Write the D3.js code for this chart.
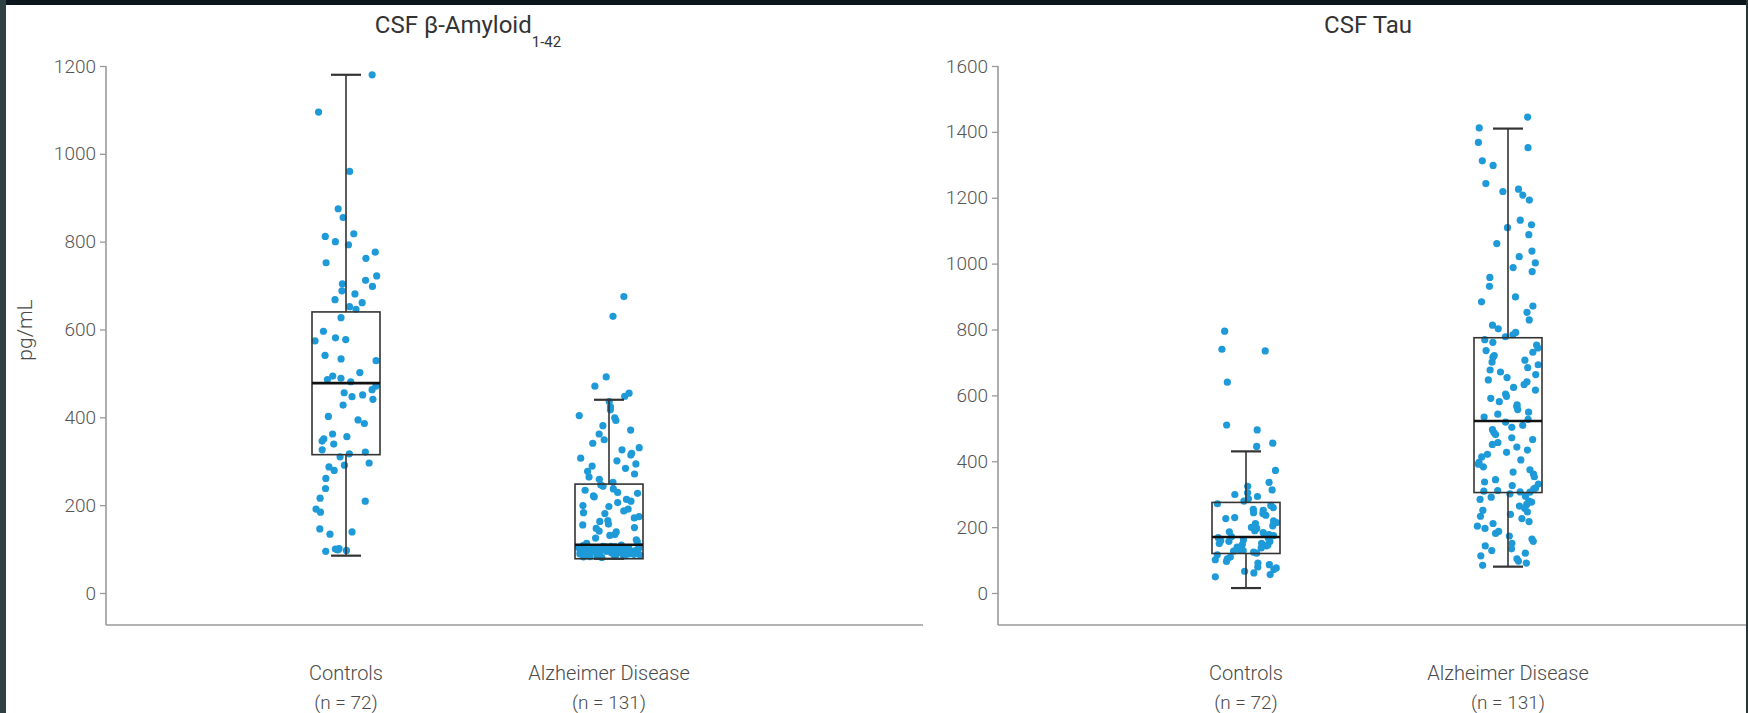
<!DOCTYPE html>
<html>
<head>
<meta charset="utf-8">
<script src="https://cdn.jsdelivr.net/npm/d3@7"></script>
<style>
  html, body { margin: 0; padding: 0; background: #0b171c; }
  svg { display: block; }
  text { font-family: Roboto, "Liberation Sans", Arial, sans-serif; }
</style>
</head>
<body>
<svg id="chart" width="1748" height="713"></svg>
<script>
// ---------------- DATA ----------------
const categories = ["Controls", "Alzheimer Disease"];
const categoryN = ["(n = 72)", "(n = 131)"];
const panelTitles = ["CSF β-Amyloid", "CSF Tau"];
const amyloidTicks = [0, 200, 400, 600, 800, 1000, 1200];
const tauTicks = [0, 200, 400, 600, 800, 1000, 1200, 1400, 1600];

// box stats: [min whisker, Q1, median, Q3, max whisker]
const amyloidBox = [[85, 315, 478, 640, 1180], [78, 78, 110, 248, 440]];
const tauBox = [[15, 120, 170, 275, 430], [80, 305, 522, 775, 1410]];

const amyloidControls = [1180, 1095, 960, 875, 855, 818, 812, 800, 793, 776, 762, 752, 722, 712, 704, 698, 688, 681, 668, 661, 652, 646,
  627, 596, 581, 577, 574, 541, 533, 529, 502, 494, 489, 486, 481, 471, 463, 456, 451, 447, 441, 428, 402, 394, 386, 362, 356, 351, 346, 339, 326, 321, 317, 310,
  296, 291, 287, 279, 261, 238, 216, 209, 191, 184, 146, 139, 134, 101, 100, 98, 97, 95];
const amyloidAD = [675, 630, 492, 471, 455, 448,
  436, 424, 417, 404, 399, 393, 381, 371, 362, 349, 341, 331, 326, 318, 314, 307, 301, 294, 289, 284, 277, 271, 264, 259, 252,
  246, 243, 237, 234, 229, 227, 221, 219, 213, 209, 206, 199, 197, 191, 187, 183, 181, 174, 171, 165, 163, 157, 155, 149, 147, 141, 139, 133, 131, 125, 121, 117, 113,
  109, 108, 107, 106, 106, 105, 105, 104, 104, 103, 103, 102, 102, 102, 101, 101, 101, 100, 100, 100, 100, 99, 99, 99, 98, 98, 98, 97, 97, 97, 96, 96, 96, 95, 95, 95,
  95, 94, 94, 94, 93, 93, 93, 92, 92, 92, 91, 91, 91, 90, 90, 90, 89, 89, 88, 88, 87, 87, 86, 86, 85, 85, 84, 84, 83, 82, 81];
const tauControls = [795, 740, 735, 640, 510, 495, 455, 445,
  372, 336, 324, 313, 304, 299, 293, 286, 279,
  271, 266, 259, 254, 251, 244, 241, 236, 229, 226, 219, 214, 211, 204, 199, 196, 189, 186, 183, 177, 174, 171,
  168, 166, 161, 159, 157, 156, 151, 150, 147, 146, 143, 139, 137, 136, 131, 129, 127, 124, 121,
  116, 109, 104, 101, 96, 91, 86, 79, 76, 71, 66, 61, 56, 49];
const tauAD = [1445, 1412, 1368, 1352, 1312, 1298, 1243, 1226, 1219, 1208, 1193, 1132, 1118, 1109, 1088, 1061, 1038, 1021, 1002, 988, 976, 958, 931, 899, 884, 871, 852, 829, 813, 802, 791, 784, 778,
  769, 761, 753, 744, 736, 731, 721, 716, 707, 701, 693, 684, 677, 671, 663, 654, 647, 641, 633, 624, 616, 604, 597, 591, 581, 571, 566, 557, 549, 543, 534, 527,
  519, 509, 503, 496, 487, 481, 471, 466, 457, 451, 443, 434, 427, 421, 413, 404, 397, 391, 383, 374, 367, 361, 353, 344, 337, 331, 326, 319, 316, 311, 309, 307, 306,
  301, 294, 291, 284, 279, 276, 269, 264, 257, 251, 246, 239, 233, 226, 217, 211, 203, 196, 187, 181, 173, 164, 157, 151, 143, 134, 129, 121, 113, 104, 97, 91, 84];

// ---------------- DRAW ----------------
const svg = d3.select("#chart");
const W = 1748, H = 713;
svg.append("rect").attr("x", 0).attr("y", 0).attr("width", W).attr("height", H).attr("fill", "#0b171c");
svg.append("rect").attr("x", 0).attr("y", 0).attr("width", 6).attr("height", H).attr("fill", "#2e4243");
svg.append("rect").attr("x", 1746).attr("y", 0).attr("width", 2).attr("height", H).attr("fill", "#263637");
svg.append("rect").attr("x", 6).attr("y", 5).attr("width", 1740).attr("height", H - 5).attr("fill", "#ffffff");

const yTop = 66, yZero = 593, xAxisY = 625;
const pointColor = "#1e9ad8";
const textColor = "#4a4a4a";

function jitter(i, k) {
  const s = Math.sin((i + 1) * 12.9898 + k * 78.233) * 43758.5453;
  return s - Math.floor(s);
}

function panel(cfg) {
  const g = svg.append("g");
  const y = d3.scaleLinear().domain([0, cfg.max]).range([yZero, yTop]);
  const x = d3.scalePoint().domain(categories).range(cfg.centers);

  // y axis
  const ax = g.append("g").attr("transform", `translate(${cfg.axisX},0)`)
    .call(d3.axisLeft(y).tickValues(cfg.ticks).tickSize(6).tickPadding(4).tickFormat(d3.format("d")));
  ax.select(".domain").remove();
  ax.selectAll(".tick line").attr("stroke", "#9a9a9a").attr("stroke-width", 1.3);
  ax.selectAll(".tick text").attr("fill", "#555").attr("font-size", 19).attr("font-weight", 300);
  g.append("line").attr("x1", cfg.axisX).attr("x2", cfg.axisX).attr("y1", yTop).attr("y2", xAxisY)
    .attr("stroke", "#9a9a9a").attr("stroke-width", 1.6);
  // x axis line
  g.append("line").attr("x1", cfg.axisX).attr("x2", cfg.axisEnd).attr("y1", xAxisY).attr("y2", xAxisY)
    .attr("stroke", "#9a9a9a").attr("stroke-width", 1.6);

  // category labels
  categories.forEach((c, i) => {
    g.append("text").attr("x", x(c)).attr("y", 680).attr("text-anchor", "middle")
      .attr("fill", textColor).attr("font-size", 20).attr("font-weight", 300).text(c);
    g.append("text").attr("x", x(c)).attr("y", 709).attr("text-anchor", "middle")
      .attr("fill", textColor).attr("font-size", 19).attr("font-weight", 300).text(categoryN[i]);
  });

  const boxW = 68, capW = 30, spread = 31;
  cfg.series.forEach((vals, si) => {
    const cx = x(categories[si]);
    g.append("g").selectAll("circle").data(vals).join("circle")
      .attr("cx", (d, i) => cx + (jitter(i, si + cfg.seed) * 2 - 1) * spread)
      .attr("cy", d => y(d))
      .attr("r", 3.6)
      .attr("fill", pointColor);
    const b = cfg.box[si];
    const bg = g.append("g").attr("stroke", "#333").attr("fill", "none");
    bg.append("line").attr("x1", cx).attr("x2", cx).attr("y1", y(b[0])).attr("y2", y(b[1])).attr("stroke-width", 1.6);
    bg.append("line").attr("x1", cx).attr("x2", cx).attr("y1", y(b[3])).attr("y2", y(b[4])).attr("stroke-width", 1.6);
    bg.append("line").attr("x1", cx - capW / 2).attr("x2", cx + capW / 2).attr("y1", y(b[0])).attr("y2", y(b[0])).attr("stroke-width", 2.2);
    bg.append("line").attr("x1", cx - capW / 2).attr("x2", cx + capW / 2).attr("y1", y(b[4])).attr("y2", y(b[4])).attr("stroke-width", 2.2);
    bg.append("rect").attr("x", cx - boxW / 2).attr("width", boxW).attr("y", y(b[3])).attr("height", y(b[1]) - y(b[3])).attr("stroke-width", 1.6);
    bg.append("line").attr("x1", cx - boxW / 2).attr("x2", cx + boxW / 2).attr("y1", y(b[2])).attr("y2", y(b[2]))
      .attr("stroke", "#111").attr("stroke-width", 2.6);
  });

  // title
  const t = g.append("text").attr("x", cfg.titleX).attr("y", 33).attr("text-anchor", "middle")
    .attr("fill", "#333").attr("font-size", 24).attr("font-weight", 400);
  t.append("tspan").text(cfg.title);
  if (cfg.sub) t.append("tspan").attr("font-size", 15).attr("dy", 14).text(cfg.sub);
}

panel({ max: 1200, ticks: amyloidTicks, axisX: 106, axisEnd: 923, centers: [346, 609],
  series: [amyloidControls, amyloidAD], box: amyloidBox, title: panelTitles[0], sub: "1-42", titleX: 468, seed: 0 });
panel({ max: 1600, ticks: tauTicks, axisX: 998, axisEnd: 1746, centers: [1246, 1508],
  series: [tauControls, tauAD], box: tauBox, title: panelTitles[1], sub: null, titleX: 1368, seed: 5 });

// y axis label
svg.append("text").attr("transform", "translate(32,330) rotate(-90)").attr("text-anchor", "middle")
  .attr("fill", textColor).attr("font-size", 21).attr("font-weight", 300).text("pg/mL");
</script>
</body>
</html>
